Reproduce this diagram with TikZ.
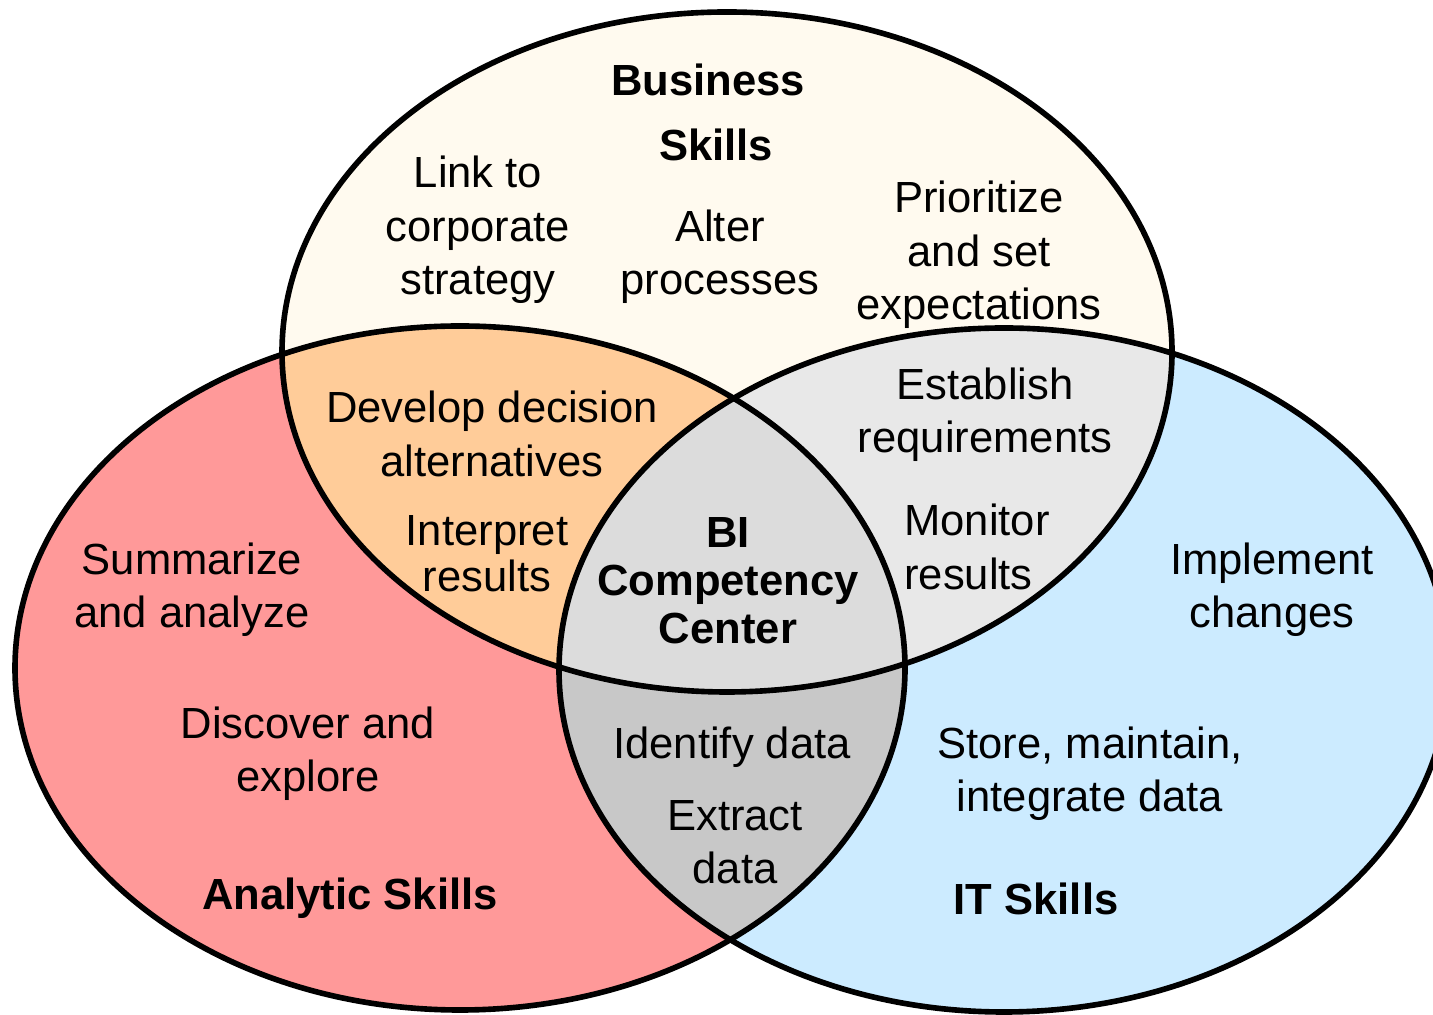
\documentclass[tikz,border=0pt]{standalone}
\usepackage{fontspec}
\setmainfont{Liberation Sans}
\usetikzlibrary{positioning}

\definecolor{busfill}{HTML}{FFFAEF}
\definecolor{anafill}{HTML}{FF9999}
\definecolor{itfill}{HTML}{CCEBFF}
\definecolor{busana}{HTML}{FFCC99}
\definecolor{busit}{HTML}{E8E8E8}
\definecolor{anait}{HTML}{C8C8C8}
\definecolor{allfill}{HTML}{DCDCDC}

\def\busell{(7.27,6.62) ellipse [x radius=4.45, y radius=3.40]}
\def\anaell{(4.60,3.46) ellipse [x radius=4.45, y radius=3.42]}
\def\itell{(10.04,3.44) ellipse [x radius=4.45, y radius=3.42]}

\tikzset{
  skill/.style={align=center, inner sep=0pt, font=\fontsize{12.4}{15.2}\selectfont},
  title/.style={skill, font=\fontsize{12.4}{15.2}\selectfont\bfseries},
  ring/.style={draw=black, line width=1.6pt}
}

\begin{document}
\begin{tikzpicture}

\useasboundingbox (0,0) rectangle (14.33,10.14);
\clip (0,0) rectangle (14.33,10.14);

% the three skill sets
\fill[busfill] \busell;
\fill[anafill] \anaell;
\fill[itfill] \itell;

% overlaps
\begin{scope}
\clip \busell;
\fill[busana] \anaell;
\fill[busit] \itell;
\end{scope}
\begin{scope}
\clip \anaell;
\fill[anait] \itell;
\end{scope}
\begin{scope}
\clip \busell;
\clip \anaell;
\fill[allfill] \itell;
\end{scope}

\draw[ring] \busell;
\draw[ring] \anaell;
\draw[ring] \itell;

% business skills
\node[title] (bus1) at (7.08,9.34) {Business};
\node[title] (bus2) at (7.16,8.69) {Skills};
\node[skill] (link) at (4.78,7.84) {Link to\\corporate\\strategy};
\node[skill] (alter) at (7.20,7.57) {Alter\\processes};
\node[skill] (prio) at (9.79,7.59) {Prioritize\\and set\\expectations};

% business and analytic
\node[skill] (develop) at (4.92,5.80) {Develop decision\\alternatives};
\node[skill, font=\fontsize{12.4}{13.2}\selectfont] (interp) at (4.87,4.60) {Interpret\\results};

% business and IT
\node[skill] (establish) at (9.85,5.99) {Establish\\requirements};
\node[skill, align=left] (monitor) at (9.77,4.67) {Monitor\\results};

% all three
\node[title, font=\fontsize{12.4}{13.7}\selectfont\bfseries] (bicc) at (7.28,4.33) {BI\\Competency\\Center};

% analytic skills
\node[skill] (summ) at (1.92,4.24) {Summarize\\and analyze};
\node[skill] (disc) at (3.08,2.60) {Discover and\\explore};
\node[title] (ana) at (3.50,1.16) {Analytic Skills};

% analytic and IT
\node[skill] (ident) at (7.32,2.67) {Identify data};
\node[skill] (extract) at (7.35,1.72) {Extract\\data};

% IT skills
\node[skill] (impl) at (12.72,4.24) {Implement\\changes};
\node[skill] (store) at (10.90,2.40) {Store, maintain,\\integrate data};
\node[title] (it) at (10.36,1.15) {IT Skills};

\end{tikzpicture}
\end{document}
